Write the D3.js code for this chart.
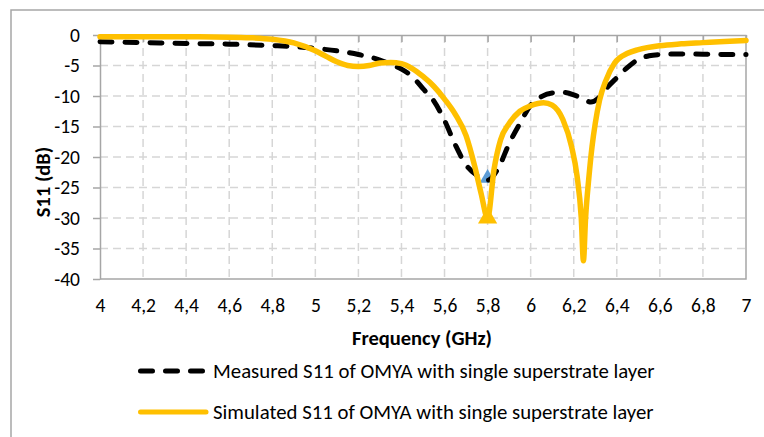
<!DOCTYPE html>
<html>
<head>
<meta charset="utf-8">
<script src="https://cdn.jsdelivr.net/npm/d3@7"></script>
<style>
  html, body { margin: 0; padding: 0; background: #ffffff; }
  svg { display: block; font-family: Carlito, Calibri, "Open Sans", sans-serif; }
</style>
</head>
<body>
<svg id="chart" width="764" height="437"></svg>
<script>
// Frequency sweep points (GHz) and S11 (dB) for each trace
const measuredFreq = [4.0, 4.2, 4.4, 4.6, 4.8, 4.9, 5.0, 5.1, 5.2, 5.3, 5.35, 5.4, 5.45, 5.5, 5.55, 5.6, 5.65, 5.7, 5.75, 5.8, 5.85, 5.9, 5.95, 6.0, 6.05, 6.1, 6.15, 6.2, 6.25, 6.28, 6.31, 6.35, 6.4, 6.45, 6.5, 6.55, 6.6, 6.7, 6.8, 6.9, 7.0];
const measuredS11 = [-1.1, -1.25, -1.4, -1.5, -1.75, -1.9, -2.2, -2.6, -3.2, -4.1, -4.8, -5.6, -6.8, -8.8, -10.8, -14.0, -18.0, -21.3, -23.0, -23.8, -21.8, -17.8, -14.5, -11.5, -10.1, -9.5, -9.4, -9.8, -10.6, -11.0, -10.5, -8.8, -7.0, -5.3, -4.0, -3.4, -3.2, -3.1, -3.15, -3.2, -3.2];

const simulatedFreq = [4.0, 4.2, 4.4, 4.6, 4.7, 4.8, 4.9, 5.0, 5.05, 5.1, 5.15, 5.2, 5.25, 5.3, 5.35, 5.4, 5.45, 5.5, 5.55, 5.6, 5.65, 5.7, 5.74, 5.77, 5.8, 5.83, 5.86, 5.9, 5.95, 6.0, 6.06, 6.1, 6.15, 6.19, 6.215, 6.235, 6.245, 6.255, 6.27, 6.285, 6.3, 6.32, 6.35, 6.39, 6.45, 6.5, 6.6, 6.7, 6.8, 6.9, 7.0];
const simulatedS11 = [-0.3, -0.3, -0.3, -0.35, -0.45, -0.7, -1.3, -2.6, -3.5, -4.4, -5.0, -5.15, -5.0, -4.6, -4.5, -4.7, -5.5, -6.8, -8.4, -10.5, -13.0, -16.5, -21.5, -26.0, -30.0, -22.0, -17.2, -14.5, -12.5, -11.6, -11.1, -11.5, -13.9, -18.3, -23.0, -30.0, -37.0, -30.0, -23.5, -18.3, -14.5, -10.7, -7.4, -4.6, -3.0, -2.4, -1.75, -1.45, -1.25, -1.05, -0.9];

// Resonance markers (triangles) on each trace
const measuredMarker = [5.8, -23.8];
const simulatedMarker = [5.8, -30.0];

// Axis ticks and labels
const freqTicks = [4, 4.2, 4.4, 4.6, 4.8, 5, 5.2, 5.4, 5.6, 5.8, 6, 6.2, 6.4, 6.6, 6.8, 7];
const s11Ticks = [0, -5, -10, -15, -20, -25, -30, -35, -40];
const xTitle = "Frequency (GHz)";
const yTitle = "S11 (dB)";
const seriesNames = [
  "Measured S11 of OMYA with single superstrate layer",
  "Simulated S11 of OMYA with single superstrate layer"
];

const svg = d3.select("#chart");
const W = 764, H = 437;
const plot = { left: 100, right: 746, top: 35, bottom: 279 };
const axisGray = "#a6a6a6";
const gridGray = "#d6d6d6";
const yellow = "#FFC000";
const font = "Carlito, Calibri, 'Open Sans', sans-serif";

svg.append("rect").attr("width", W).attr("height", H).attr("fill", "#fff");

// outer chart frame (top and left edges)
svg.append("path")
  .attr("d", `M11,${H} L11,10 L${W},10`)
  .attr("fill", "none").attr("stroke", axisGray).attr("stroke-width", 1.5);

const x = d3.scaleLinear().domain([4, 7]).range([plot.left, plot.right]);
const y = d3.scaleLinear().domain([-40, 0]).range([plot.bottom, plot.top]);
const fmt = d => String(d).replace(".", ",");

// dashed gridlines
const grid = svg.append("g");
grid.selectAll("line.h").data(s11Ticks.filter(v => v !== 0 && v !== -40)).enter().append("line")
  .attr("x1", plot.left).attr("x2", plot.right)
  .attr("y1", d => y(d)).attr("y2", d => y(d))
  .attr("stroke", gridGray).attr("stroke-width", 1.5).attr("stroke-dasharray", "8,5");
grid.selectAll("line.v").data(freqTicks.filter(v => v !== 4 && v !== 7)).enter().append("line")
  .attr("x1", d => x(d)).attr("x2", d => x(d))
  .attr("y1", plot.top).attr("y2", plot.bottom)
  .attr("stroke", gridGray).attr("stroke-width", 1.5).attr("stroke-dasharray", "8,5");

// plot border on bottom and right
svg.append("path")
  .attr("d", `M${plot.left},${plot.bottom} L${plot.right},${plot.bottom} L${plot.right},${plot.top}`)
  .attr("fill", "none").attr("stroke", axisGray).attr("stroke-width", 1.5);

// horizontal axis crosses at 0 dB (top), ticks pointing into the plot
const xAxisTop = svg.append("g")
  .attr("transform", `translate(0,${y(0)})`)
  .call(d3.axisBottom(x).tickValues(freqTicks).tickSize(7).tickSizeOuter(0).tickFormat(""));
xAxisTop.selectAll("path, line").attr("stroke", axisGray).attr("stroke-width", 1.5);

// frequency labels along the bottom
const xLabels = svg.append("g")
  .attr("transform", `translate(0,${plot.bottom})`)
  .call(d3.axisBottom(x).tickValues(freqTicks).tickSize(0).tickPadding(33).tickFormat(fmt));
xLabels.select(".domain").remove();
xLabels.selectAll("text").attr("font-family", font)
  .attr("font-size", 19.5).attr("fill", "#000").attr("dy", "0");

const yAxis = svg.append("g")
  .attr("transform", `translate(${plot.left},0)`)
  .call(d3.axisLeft(y).tickValues(s11Ticks).tickSize(7).tickSizeOuter(0).tickPadding(13).tickFormat(d => String(d)));
yAxis.selectAll("path, line").attr("stroke", axisGray).attr("stroke-width", 1.5);
yAxis.selectAll("text").attr("font-family", font)
  .attr("font-size", 19.5).attr("fill", "#000");

// axis titles
svg.append("text").text(xTitle)
  .attr("x", (plot.left + plot.right) / 2 - 1).attr("y", 345)
  .attr("text-anchor", "middle").attr("font-weight", "bold")
  .attr("font-family", font).attr("font-size", 20.5);
svg.append("text").text(yTitle)
  .attr("transform", `translate(50,182) rotate(-90)`)
  .attr("text-anchor", "middle").attr("font-weight", "bold")
  .attr("font-family", font).attr("font-size", 20.5);

const triangle = d3.symbol().type(d3.symbolTriangle);
const line = d3.line().curve(d3.curveMonotoneX);

// measured marker sits below its trace
svg.append("path")
  .attr("d", triangle.size(110)())
  .attr("transform", `translate(${x(measuredMarker[0])},${y(measuredMarker[1]) - 2})`)
  .attr("fill", "#5B9BD5");

svg.append("path")
  .attr("d", line(measuredFreq.map((f, i) => [x(f), y(measuredS11[i])])))
  .attr("fill", "none").attr("stroke", "#000").attr("stroke-width", 5)
  .attr("stroke-dasharray", "12,13").attr("stroke-linecap", "round").attr("stroke-linejoin", "round");

svg.append("path")
  .attr("d", line(simulatedFreq.map((f, i) => [x(f), y(simulatedS11[i])])))
  .attr("fill", "none").attr("stroke", yellow).attr("stroke-width", 5.5)
  .attr("stroke-linecap", "round").attr("stroke-linejoin", "round");

svg.append("path")
  .attr("d", triangle.size(160)())
  .attr("transform", `translate(${x(simulatedMarker[0])},${y(simulatedMarker[1])})`)
  .attr("fill", yellow);

// legend
const legend = svg.append("g");
const legendRows = [
  { y: 371, color: "#000", dash: "12,13", x1: 140.5, x2: 203 },
  { y: 412, color: yellow, dash: null, x1: 140.5, x2: 206 }
];
legendRows.forEach((r, i) => {
  legend.append("line")
    .attr("x1", r.x1).attr("x2", r.x2).attr("y1", r.y).attr("y2", r.y)
    .attr("stroke", r.color).attr("stroke-width", 5).attr("stroke-linecap", "round")
    .attr("stroke-dasharray", r.dash);
  legend.append("text").text(seriesNames[i])
    .attr("x", 213).attr("y", r.y).attr("dy", "0.34em")
    .attr("font-family", font).attr("font-size", 20.8).attr("fill", "#000");
});
</script>
</body>
</html>
